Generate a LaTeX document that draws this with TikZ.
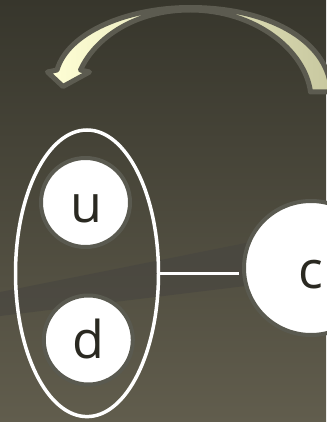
\documentclass[tikz,border=0pt]{standalone}
\usepackage{fontspec}
\setmainfont{Open Sans}
\usetikzlibrary{shapes.geometric}
\definecolor{bgtop}{RGB}{55,54,44}
\definecolor{bgbot}{RGB}{97,93,77}
\definecolor{ringgrey}{RGB}{90,90,80}
\definecolor{arrowgrey}{RGB}{92,91,80}
\definecolor{arrowlight}{RGB}{255,255,213}
\definecolor{arrowdark}{RGB}{200,200,160}
\definecolor{bandcol}{RGB}{70,68,64}
\definecolor{txt}{RGB}{42,41,33}
\tikzset{
  ball/.style={circle, fill=white, draw=ringgrey, line width=4pt, inner sep=0pt},
  letter/.style={text=txt, font=\fontsize{52}{52}\selectfont, anchor=base, inner sep=0pt},
  grouping/.style={ellipse, draw=white, line width=3.5pt, inner sep=0pt},
  link/.style={draw=white, line width=3.5pt},
  bigarrow/.style={draw=arrowgrey, line width=5pt, line join=round, left color=arrowlight, right color=arrowdark}
}
\begin{document}
\begin{tikzpicture}[x=1pt,y=-1pt]
\useasboundingbox (0,0) rectangle (326,422);
\fill[top color=bgtop, bottom color=bgbot] (0,0) rectangle (326,422);
% faint diagonal band
\fill[bandcol, opacity=0.55] (0,292) -- (311,230) -- (311,278) -- (0,316) -- cycle;
% curved arrow
\path[bigarrow] (331,92) .. controls (330,45) and (275,7.5) .. (190,7.5)
  .. controls (128,7.5) and (68,32) .. (57,70)
  -- (47.5,72) -- (63,86.5) -- (89.5,72) -- (80.5,70)
  .. controls (95,38) and (135,10) .. (190,10)
  .. controls (255,10) and (305,50) .. (310.5,92) -- cycle;
% group ellipse
\node[grouping, minimum width=143pt, minimum height=286.6pt] (grp) at (87,273.3) {};
% circles
\node[ball, minimum size=89pt] (u) at (85.5,202.5) {};
\node[ball, minimum size=89pt] (d) at (88.3,340) {};
\node[ball, minimum size=134pt] (c) at (311,268) {};
% connector
\draw[link, shorten >=3pt] (grp.east) -- (grp.east -| c.west);
% labels
\node[letter] (ut) at (86,222.5) {u};
\node[letter] (dt) at (88,358) {d};
\node[letter] (ct) at (311,288) {c};
\end{tikzpicture}
\end{document}
